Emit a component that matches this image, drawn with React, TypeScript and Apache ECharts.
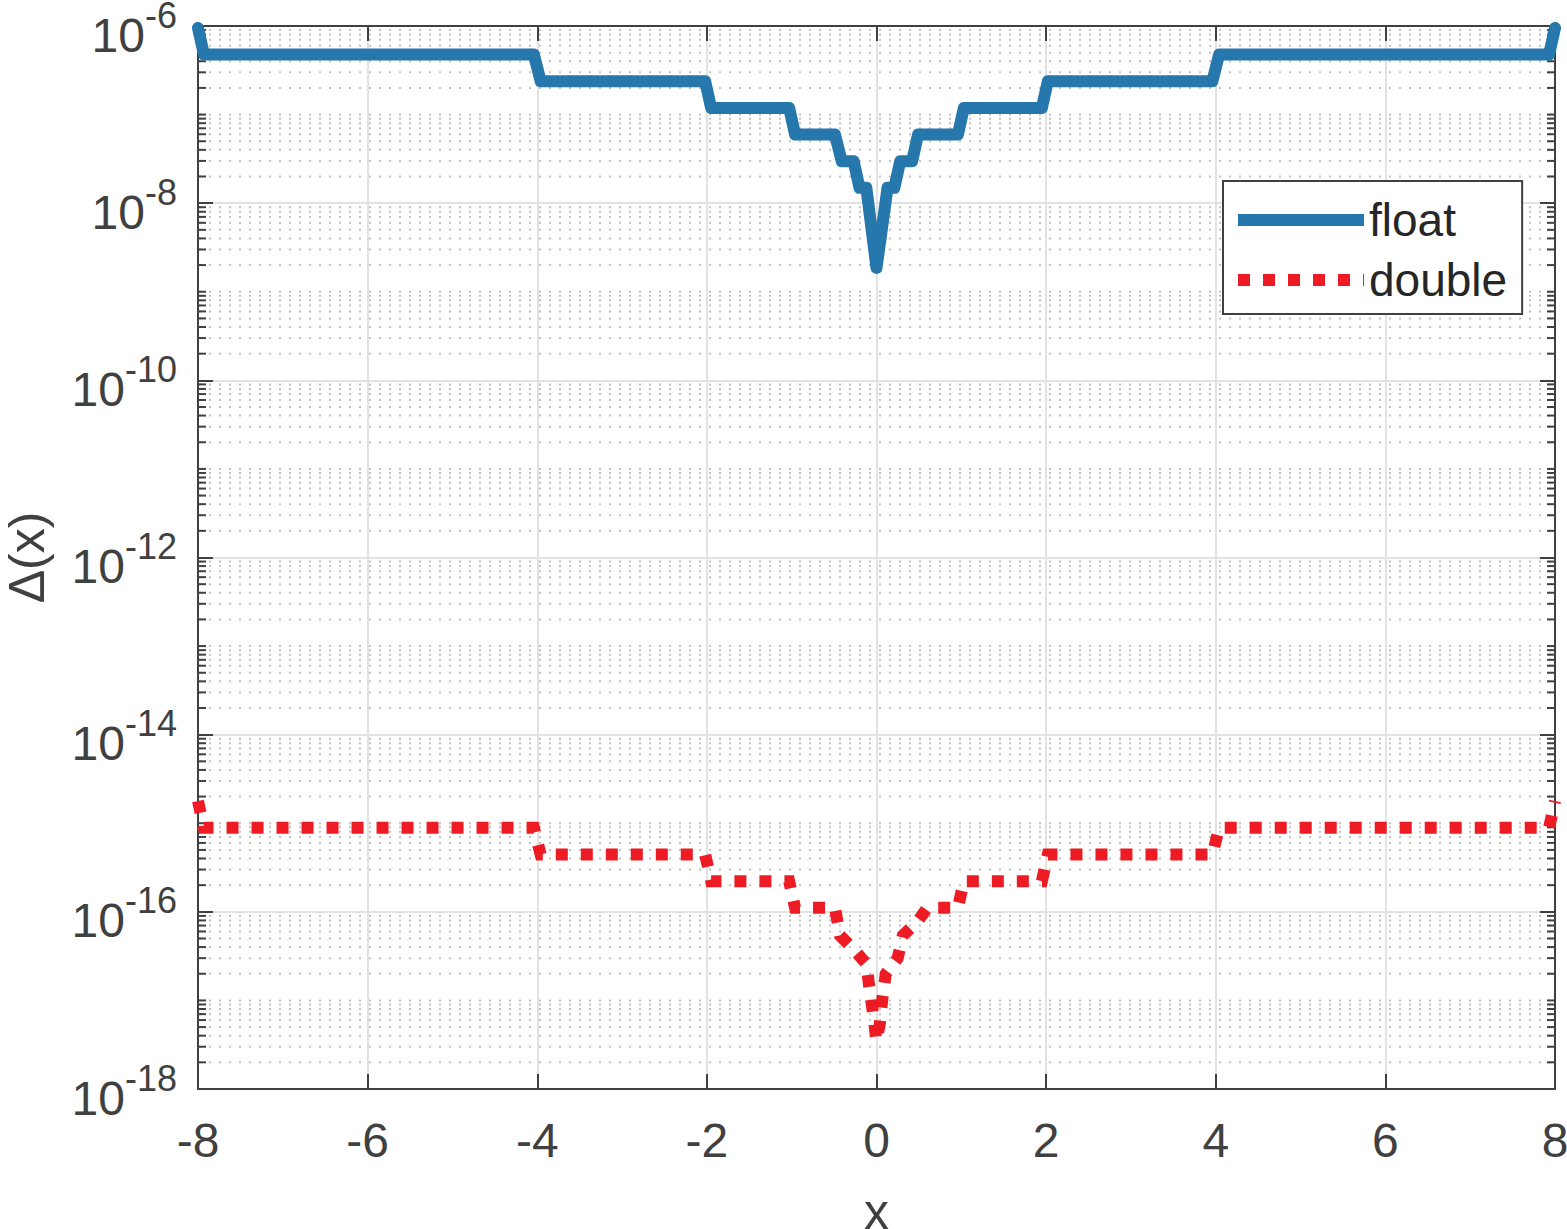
import React, { useEffect, useRef } from "react";
import * as echarts from "echarts";

// ---- data ----
const seriesNames = ["float", "double"];

const floatX = [-8, -7.93, -4.04, -3.96, -2.02, -1.95, -1.03, -0.96, -0.49, -0.41, -0.27, -0.2, -0.12, 0, 0.13, 0.21, 0.28, 0.42, 0.49, 0.96, 1.03, 1.95, 2.02, 3.96, 4.04, 7.93, 8];
const floatY = [9.5e-7, 4.77e-7, 4.77e-7, 2.38e-7, 2.38e-7, 1.19e-7, 1.19e-7, 5.96e-8, 5.96e-8, 2.98e-8, 2.98e-8, 1.49e-8, 1.49e-8, 1.86e-9, 1.49e-8, 1.49e-8, 2.98e-8, 2.98e-8, 5.96e-8, 5.96e-8, 1.19e-7, 1.19e-7, 2.38e-7, 2.38e-7, 4.77e-7, 4.77e-7, 9.5e-7];

const doubleX = [-8, -7.93, -4.04, -3.96, -2.02, -1.95, -1.03, -0.96, -0.49, -0.43, -0.25, -0.12, -0.08, -0.04, 0, 0.04, 0.07, 0.11, 0.25, 0.31, 0.49, 0.6, 0.96, 1.03, 1.95, 2.02, 3.96, 4.04, 7.93, 8];
const doubleY = [1.78e-15, 8.88e-16, 8.88e-16, 4.44e-16, 4.44e-16, 2.22e-16, 2.22e-16, 1.11e-16, 1.11e-16, 5.4e-17, 3.6e-17, 2.6e-17, 1.3e-17, 7.1e-18, 3.5e-18, 5.5e-18, 1.07e-17, 2.0e-17, 3.0e-17, 5.4e-17, 7.9e-17, 1.11e-16, 1.11e-16, 2.22e-16, 2.22e-16, 4.44e-16, 4.44e-16, 8.88e-16, 8.88e-16, 1.78e-15];

// axis structure
const xMin = -8;
const xMax = 8;
const xStep = 2;
const yMinExp = -18;
const yMaxExp = -6;
const yStepExp = 2;
const minorMultipliers = [2, 3, 4, 5, 6, 7, 8, 9];

const AXIS_COLOR = "#404040";
const FLOAT_COLOR = "#2677ab";
const DOUBLE_COLOR = "#ed1c24";
const FONT = "'Liberation Sans', Arial, Helvetica, sans-serif";

export default function App() {
  const ref = useRef<HTMLDivElement>(null);

  useEffect(() => {
    if (!ref.current) return;
    const chart = echarts.init(ref.current, null, { renderer: "svg" });

    const minorLogs: number[] = [];
    for (let e = yMinExp; e < yMaxExp; e++) {
      if (Math.abs(e - yMinExp) % yStepExp !== 0) minorLogs.push(e);
      for (const m of minorMultipliers) minorLogs.push(Math.log10(m) + e);
    }

    const floatData = floatX.map((x, i) => [x, Math.log10(floatY[i])]);
    const doubleData = doubleX.map((x, i) => [x, Math.log10(doubleY[i])]);

    const yLabelRich = {
      b: { fontSize: 48, height: 46, lineHeight: 64, verticalAlign: "bottom", color: AXIS_COLOR, fontFamily: FONT },
      s: { fontSize: 36, height: 42, lineHeight: 64, verticalAlign: "top", color: AXIS_COLOR, fontFamily: FONT },
    };

    const option: any = {
      animation: false,
      textStyle: { fontFamily: FONT },
      grid: { left: 198, right: 12, top: 26, bottom: 140, containLabel: false, outerBoundsMode: "none" },
      legend: {
        orient: "vertical",
        left: 1223,
        top: 181,
        padding: [16, 15, 11, 9],
        itemGap: 14,
        itemWidth: 126,
        itemHeight: 46,
        borderColor: AXIS_COLOR,
        borderWidth: 2,
        backgroundColor: "#ffffff",
        textStyle: { fontSize: 46, color: "#262626", fontFamily: FONT },
        data: [
          {
            name: seriesNames[0],
            lineStyle: { width: 12, color: FLOAT_COLOR, cap: "butt" },
            itemStyle: { color: "rgba(0,0,0,0)", opacity: 0, borderWidth: 0 },
          },
          {
            name: seriesNames[1],
            lineStyle: { width: 12, color: DOUBLE_COLOR, type: [12, 13], cap: "butt" },
            itemStyle: { color: "rgba(0,0,0,0)", opacity: 0, borderWidth: 0 },
          },
        ],
      },
      xAxis: [
        {
          type: "value",
          min: xMin,
          max: xMax,
          interval: xStep,
          position: "bottom",
          name: "x",
          nameLocation: "middle",
          nameGap: 98,
          nameTextStyle: { fontSize: 50, color: AXIS_COLOR, fontFamily: FONT },
          axisLine: { show: true, onZero: false, lineStyle: { color: AXIS_COLOR, width: 2 } },
          axisTick: { show: true, inside: true, length: 15, lineStyle: { color: AXIS_COLOR, width: 2 } },
          axisLabel: { fontSize: 48, color: AXIS_COLOR, margin: 27, fontFamily: FONT },
          splitLine: { show: true, lineStyle: { color: "#e2e2e2", width: 2 } },
        },
        {
          type: "value",
          min: xMin,
          max: xMax,
          interval: xStep,
          position: "top",
          axisLine: { show: true, onZero: false, lineStyle: { color: AXIS_COLOR, width: 2 } },
          axisTick: { show: true, inside: true, length: 15, lineStyle: { color: AXIS_COLOR, width: 2 } },
          axisLabel: { show: false },
          splitLine: { show: false },
        },
      ],
      yAxis: [
        {
          type: "value",
          min: yMinExp,
          max: yMaxExp,
          interval: yStepExp,
          position: "left",
          name: "Δ(x)",
          nameLocation: "middle",
          nameGap: 146,
          nameRotate: 90,
          nameTextStyle: { fontSize: 50, color: AXIS_COLOR, fontFamily: FONT },
          axisLine: { show: true, onZero: false, lineStyle: { color: AXIS_COLOR, width: 2 } },
          axisTick: { show: true, inside: true, length: 15, lineStyle: { color: AXIS_COLOR, width: 2 } },
          axisLabel: {
            margin: 21,
            formatter: (v: number) => `{b|10}{s|${v}}`,
            rich: yLabelRich,
          },
          splitLine: { show: true, lineStyle: { color: "#e2e2e2", width: 2 } },
        },
        {
          type: "value",
          min: yMinExp,
          max: yMaxExp,
          interval: yStepExp,
          position: "right",
          axisLine: { show: true, onZero: false, lineStyle: { color: AXIS_COLOR, width: 2 } },
          axisTick: { show: true, inside: true, length: 15, lineStyle: { color: AXIS_COLOR, width: 2 } },
          axisLabel: { show: false },
          splitLine: { show: false },
        },
      ],
      series: [
        {
          type: "custom",
          name: "minor",
          silent: true,
          z: 1,
          xAxisIndex: 0,
          yAxisIndex: 0,
          data: minorLogs.map((v) => [xMin, v]),
          encode: { x: 0, y: 1 },
          renderItem: (_params: any, api: any) => {
            const v = api.value(1);
            const p0 = api.coord([xMin, v]);
            const p1 = api.coord([xMax, v]);
            return {
              type: "group",
              children: [
                {
                  type: "line",
                  shape: { x1: p0[0] + 1, y1: p0[1], x2: p1[0] - 1, y2: p1[1] },
                  style: { stroke: "#c2c2c2", lineWidth: 2, lineDash: [2, 8] },
                },
                {
                  type: "line",
                  shape: { x1: p0[0], y1: p0[1], x2: p0[0] + 8, y2: p0[1] },
                  style: { stroke: AXIS_COLOR, lineWidth: 2 },
                },
                {
                  type: "line",
                  shape: { x1: p1[0] - 8, y1: p1[1], x2: p1[0], y2: p1[1] },
                  style: { stroke: AXIS_COLOR, lineWidth: 2 },
                },
              ],
            };
          },
        },
        {
          type: "line",
          name: seriesNames[0],
          data: floatData,
          symbol: "none",
          clip: false,
          z: 3,
          lineStyle: { color: FLOAT_COLOR, width: 12, join: "round", cap: "round" },
          itemStyle: { color: FLOAT_COLOR },
        },
        {
          type: "line",
          name: seriesNames[1],
          data: doubleData,
          symbol: "none",
          clip: false,
          z: 4,
          lineStyle: { color: DOUBLE_COLOR, width: 12, type: [12, 13], cap: "butt", join: "miter" },
          itemStyle: { color: DOUBLE_COLOR },
        },
      ],
    };

    chart.setOption(option);
    return () => chart.dispose();
  }, []);

  return (
    <div
      ref={ref}
      style={{ position: "fixed", left: 0, top: 0, width: 1567, height: 1229, background: "#ffffff" }}
    />
  );
}
